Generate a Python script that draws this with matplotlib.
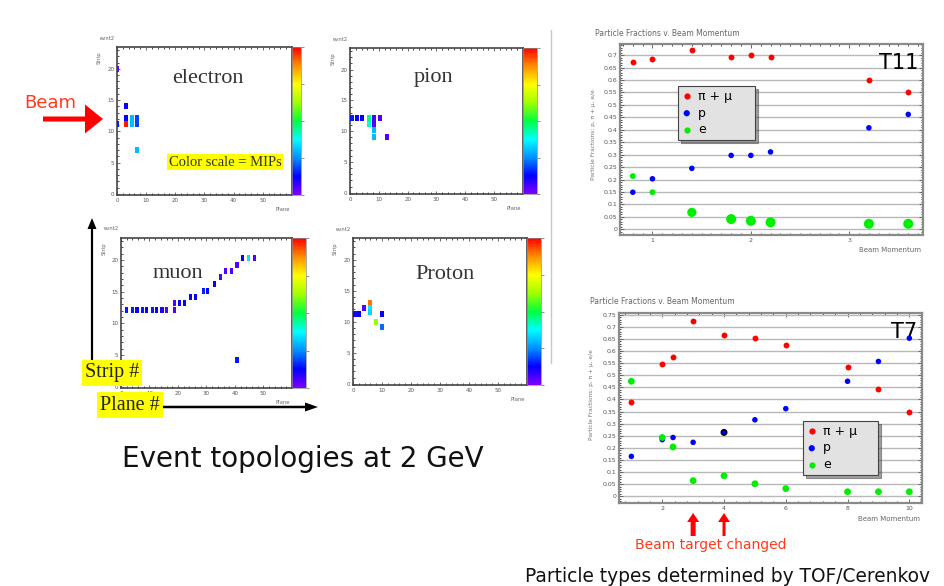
import numpy as np
import matplotlib
matplotlib.use("Agg")
import matplotlib.pyplot as plt
from matplotlib.colors import LinearSegmentedColormap, Normalize
from matplotlib.cm import ScalarMappable
from matplotlib.ticker import MultipleLocator, FuncFormatter, AutoMinorLocator

# ---------------- data ----------------
# event displays: plane, strip, colour level (0 = purple ... 1 = red)
electron_planes = [0, 3, 3, 0, 3, 5, 5, 7, 7, 7]
electron_strips = [20, 14, 12.2, 11.1, 11.1, 12.2, 11.1, 12.2, 11.1, 7]
electron_levels = [0.02, 0.12, 0.12, 0.15, 0.98, 0.3, 0.3, 0.18, 0.18, 0.3]

pion_planes = [0.6, 2.4, 4.2, 6.5, 6.5, 8.4, 8.4, 8.4, 8.4, 10.4, 12.7]
pion_strips = [12.1, 12.1, 12.1, 12.1, 11.1, 12.1, 11.1, 10.2, 9.1, 12.1, 9.1]
pion_levels = [0.15, 0.12, 0.12, 0.45, 0.4, 0.05, 0.05, 0.3, 0.3, 0.05, 0.05]

muon_planes = [2, 4, 5.6, 7.4, 9, 11, 12.6, 14.4, 16, 18.7, 18.7, 20.6, 22.3, 24.3,
               26, 28.8, 30.5, 32.9, 34.9, 36.8, 38.7, 40.7, 42.7, 44.8, 46.8, 40.7]
muon_strips = [12.2, 12.2, 12.2, 12.2, 12.2, 12.2, 12.2, 12.2, 12.2, 12.2, 13.2, 13.2,
               13.2, 14.2, 14.2, 15.2, 15.2, 16.3, 17.4, 18.3, 18.3, 19.2, 20.3, 20.3,
               20.3, 4.2]
muon_levels = [0.15, 0.15, 0.12, 0.15, 0.12, 0.15, 0.12, 0.1, 0.05, 0.05, 0.05, 0.12,
               0.12, 0.12, 0.12, 0.15, 0.12, 0.12, 0.05, 0.05, 0.05, 0.05, 0.12, 0.35,
               0.05, 0.15]

proton_planes = [0.6, 2, 3.8, 5.9, 5.9, 5.9, 7.9, 10, 10]
proton_strips = [11.2, 11.2, 12.2, 13.1, 12.3, 11.5, 10.0, 11.2, 9.1]
proton_levels = [0.1, 0.12, 0.05, 0.9, 0.35, 0.33, 0.62, 0.12, 0.22]

# particle fractions, T11 beam line
t11_momentum = [0.8, 1.0, 1.4, 1.8, 2.0, 2.2, 3.2, 3.6]
t11_pimu = [0.673, 0.686, 0.719, 0.692, 0.699, 0.692, 0.601, 0.550]
t11_p = [0.149, 0.203, 0.245, 0.297, 0.297, 0.311, 0.408, 0.462]
t11_e = [0.214, 0.149, 0.068, 0.041, 0.034, 0.028, 0.022, 0.022]

# particle fractions, T7 beam line
t7_momentum = [1, 2, 2.35, 3, 4, 5, 6, 8, 9, 10]
t7_pimu = [0.388, 0.547, 0.574, 0.725, 0.666, 0.652, 0.626, 0.534, 0.443, 0.348]
t7_p = [0.165, 0.234, 0.243, 0.223, 0.264, 0.316, 0.362, 0.475, 0.557, 0.653]
t7_e = [0.475, 0.243, 0.204, 0.065, 0.085, 0.052, 0.032, 0.019, 0.019, 0.019]

series_labels = ["\u03c0 + \u03bc", "p", "e"]
target_changed = [3, 4]

# ---------------- figure ----------------
W, H = 945, 586
fig = plt.figure(figsize=(W / 100, H / 100), dpi=100)
fig.patch.set_facecolor("white")


def box(x0, y0, x1, y1):
    return [x0 / W, 1 - y1 / H, (x1 - x0) / W, (y1 - y0) / H]


cmap = LinearSegmentedColormap.from_list(
    "root", ["#8000ff", "#0000ff", "#0090ff", "#00ffff", "#00ff40",
             "#a0ff00", "#ffff00", "#ff9000", "#ff0000"])

SERIF = ["Liberation Serif", "DejaVu Serif"]
SANS = ["DejaVu Sans"]


def event_panel(frame, cbar, planes, strips, levels, name, name_xy, hit_w=1.4):
    ax = fig.add_axes(box(*frame))
    s = np.asarray(strips, float)
    ax.bar(planes, 0.95, width=hit_w, bottom=s - 0.475,
           color=cmap(np.asarray(levels)), linewidth=0, zorder=3)
    ax.set_xlim(0, 60)
    ax.set_ylim(-0.2, 23.5)
    ax.set_xticks([0, 10, 20, 30, 40, 50])
    ax.set_yticks([0, 5, 10, 15, 20])
    ax.xaxis.set_minor_locator(MultipleLocator(2))
    ax.yaxis.set_minor_locator(MultipleLocator(1))
    ax.tick_params(labelsize=4, colors="#555", length=2.5, width=0.6,
                   direction="in", top=True, pad=2)
    ax.tick_params(which="minor", length=1.2, width=0.5, direction="in", top=True)
    for sp in ax.spines.values():
        sp.set_color("#444")
        sp.set_linewidth(1.2)
    ax.text(name_xy[0], name_xy[1], name, transform=ax.transAxes, ha="center",
            va="center", fontsize=16, family=SERIF, color="#333")
    ax.text(0.99, -0.08, "Plane", transform=ax.transAxes, ha="right", va="top",
            fontsize=3.8, color="#666")
    ax.text(-0.1, 0.93, "Strip", transform=ax.transAxes, ha="center", va="center",
            rotation=90, fontsize=3.8, color="#666")
    ax.text(-0.1, 1.06, "evnt2", transform=ax.transAxes, ha="left", va="center",
            fontsize=3.8, color="#666")
    cax = fig.add_axes(box(*cbar))
    cb = fig.colorbar(ScalarMappable(Normalize(0, 1), cmap), cax=cax)
    cb.set_ticks([0, 0.25, 0.5, 0.75, 1])
    cb.set_ticklabels([""] * 5)
    cb.ax.tick_params(length=2, width=0.5, color="#666")
    cb.outline.set_linewidth(0.5)
    cb.outline.set_edgecolor("#888")
    return ax


ax_e = event_panel((117, 47, 292, 195), (292, 47, 301, 195), electron_planes,
                   electron_strips, electron_levels, "electron", (0.52, 0.79))
ax_e.text((225 - 117) / 175, (195 - 162) / 148, "Color scale = MIPs",
          transform=ax_e.transAxes, ha="center", va="center", fontsize=10.5,
          family=SERIF, color="#333",
          bbox=dict(boxstyle="square,pad=0.12", fc="#ffff00", ec="none"))
event_panel((350, 48, 523, 194), (523, 48, 537, 194), pion_planes,
            pion_strips, pion_levels, "pion", (0.48, 0.80))
event_panel((121, 238, 292, 388), (292, 238, 306, 388), muon_planes,
            muon_strips, muon_levels, "muon", (0.33, 0.76), hit_w=1.1)
event_panel((353, 238, 527, 385), (527, 238, 541, 385), proton_planes,
            proton_strips, proton_levels, "Proton", (0.53, 0.75))


def fraction_panel(frame, momentum, pimu, prot, ele, xlim, ylim, xticks, tag,
                   legend_box, title_xy, ylabel_xy, xlabel_xy, e_sizes, p_edges):
    ax = fig.add_axes(box(*frame))
    ax.set_xlim(*xlim)
    ax.set_ylim(*ylim)
    ax.yaxis.set_major_locator(MultipleLocator(0.05))
    ax.yaxis.set_major_formatter(FuncFormatter(lambda v, p: "%g" % round(v, 2)))
    ax.set_xticks(xticks)
    ax.xaxis.set_minor_locator(AutoMinorLocator(10 if len(xticks) < 4 else 5))
    ax.yaxis.set_minor_locator(MultipleLocator(0.01))
    ax.tick_params(labelsize=4.5, colors="#555", length=3, width=0.6,
                   direction="in", top=True, right=True, pad=2)
    ax.tick_params(which="minor", length=1.5, width=0.5, direction="in",
                   top=True, right=True)
    ax.grid(axis="y", color="#b8b8b8", lw=1.0)
    ax.set_axisbelow(True)
    for sp in ax.spines.values():
        sp.set_color("#8a8a8a")
        sp.set_linewidth(1.6)
    h1 = ax.scatter(momentum, pimu, s=18, color="#ff0000", lw=0, zorder=4,
                    label=series_labels[0])
    h2 = ax.scatter(momentum, prot, s=16, color="#0000ff", edgecolors=p_edges,
                    lw=1.0, zorder=4, label=series_labels[1])
    h3 = ax.scatter(momentum, ele, s=e_sizes, color="#00ee00", lw=0, zorder=4,
                    label=series_labels[2])
    ax.text(0.985, 0.955, tag, transform=ax.transAxes, ha="right", va="top",
            fontsize=15, color="black")
    x0, y0, x1, y1 = legend_box
    leg = ax.legend(handles=[h1, h2, h3], loc="upper left",
                    bbox_to_anchor=(x0 / W, 1 - y1 / H, (x1 - x0) / W, (y1 - y0) / H),
                    bbox_transform=fig.transFigure, mode="expand",
                    fontsize=9, frameon=True, fancybox=False, shadow=True,
                    facecolor="#e2e2e2", edgecolor="#444", framealpha=1,
                    borderpad=0.3, labelspacing=0.3, handletextpad=0.5,
                    handlelength=0.8, borderaxespad=0, scatterpoints=1)
    for hnd in leg.legend_handles:
        hnd.set_sizes([20])
    leg.get_frame().set_linewidth(0.8)
    fig.text(title_xy[0] / W, 1 - title_xy[1] / H,
             "Particle Fractions v. Beam Momentum", fontsize=5.5, color="#666",
             ha="left", va="center")
    fig.text(ylabel_xy[0] / W, 1 - ylabel_xy[1] / H,
             "Particle Fractions: p, \u03c0 + \u03bc, e/e", fontsize=4.2,
             color="#777", rotation=90, ha="center", va="center")
    fig.text(xlabel_xy[0] / W, 1 - xlabel_xy[1] / H, "Beam Momentum",
             fontsize=5.0, color="#666", ha="right", va="center")
    return ax


fraction_panel((620, 44, 923, 235), t11_momentum, t11_pimu, t11_p, t11_e,
               (0.67, 3.75), (-0.023, 0.745), [1, 2, 3], "T11",
               (678, 86, 755, 136), (595, 34), (594, 135), (921, 250),
               [18, 18, 44, 52, 52, 52, 52, 52], "none")

t7_edges = ["none"] * len(t7_momentum)
t7_edges[t7_momentum.index(4)] = "black"
ax7 = fraction_panel((619, 313, 922, 503), t7_momentum, t7_pimu, t7_p, t7_e,
                     (0.6, 10.41), (-0.0275, 0.757), [2, 4, 6, 8, 10], "T7",
                     (803, 421, 878, 470), (590, 302), (592, 395), (920, 519),
                     [24] * len(t7_momentum), t7_edges)

# ---------------- overlay annotations ----------------
ov = fig.add_axes([0, 0, 1, 1], zorder=10)
ov.set_xlim(0, W)
ov.set_ylim(H, 0)
ov.axis("off")
ov.patch.set_alpha(0)

# separator line of the event-display picture
ov.plot([551, 551], [30, 363], color="#c8c8c8", lw=1)

# beam arrow
ov.text(50, 103, "Beam", ha="center", va="center", fontsize=13, color="#ff3a1a",
        family=SANS)
ov.arrow(43, 119, 60, 0, width=5, head_width=29, head_length=18,
         length_includes_head=True, color="#ff0000", lw=0)

# axis arrows of the event displays
ov.arrow(92, 362, 0, -144, width=2.2, head_width=9, head_length=11,
         length_includes_head=True, color="black", lw=0)
ov.arrow(160, 407, 158, 0, width=2.5, head_width=9, head_length=13,
         length_includes_head=True, color="black", lw=0)
ov.text(112, 373, "Strip #", ha="center", va="center", fontsize=14.5,
        family=SERIF, color="#222",
        bbox=dict(boxstyle="square,pad=0.15", fc="#ffff00", ec="none"))
ov.text(130, 405, "Plane #", ha="center", va="center", fontsize=14.5,
        family=SERIF, color="#222",
        bbox=dict(boxstyle="square,pad=0.15", fc="#ffff00", ec="none"))

ov.text(303, 467, "Event topologies at 2 GeV", ha="center", va="baseline",
        fontsize=20, color="#111", family=SANS)

# beam target changed arrows, positioned on the T7 momentum scale
fig.canvas.draw()
for i, mom in enumerate(target_changed):
    disp = ax7.transData.transform((mom, 0))
    xp = ov.transData.inverted().transform(disp)[0]
    ov.arrow(xp, 536, 0, -23, width=5 if i == 0 else 3, head_width=12,
             head_length=9, length_includes_head=True, color="#ff0000", lw=0)
ov.text(711, 549, "Beam target changed", ha="center", va="baseline",
        fontsize=10, color="#ff3a1a", family=SANS)
ov.text(525, 582, "Particle types determined by TOF/Cerenkov", ha="left",
        va="baseline", fontsize=13.4, color="#111", family=SANS)

fig.savefig("out.png", dpi=100)
